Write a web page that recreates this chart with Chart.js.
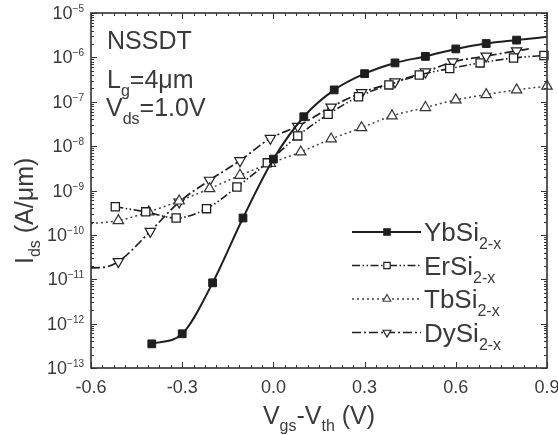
<!DOCTYPE html>
<html>
<head>
<meta charset="utf-8">
<script src="https://cdn.jsdelivr.net/npm/chart.js@4.4.0/dist/chart.umd.min.js"></script>
<style>
  html, body { margin: 0; padding: 0; background: #fff; }
  #wrap { width: 558px; height: 435px; position: relative; }
</style>
</head>
<body>
<div id="wrap"><canvas id="chart"></canvas></div>
<script>
// Vgs-Vth (V) and Ids (A/um)
const ybVgs = [-0.4, -0.3, -0.2, -0.1, 0.0, 0.1, 0.2, 0.3, 0.4, 0.5, 0.6, 0.7, 0.8, 0.9];
const ybIds = [3.5e-13, 5.9e-13, 8.3e-12, 2.4e-10, 5.1e-9, 4.6e-8, 1.85e-7, 4.3e-7, 7.5e-7, 1.05e-6, 1.55e-6, 2.05e-6, 2.45e-6, 2.9e-6];
const ybMarks = [1, 1, 1, 1, 1, 1, 1, 1, 1, 1, 1, 1, 1, 0];

const erVgs = [-0.52, -0.42, -0.32, -0.22, -0.12, -0.02, 0.08, 0.18, 0.28, 0.38, 0.48, 0.58, 0.68, 0.79, 0.89];
const erIds = [4.3e-10, 3.3e-10, 2.4e-10, 3.9e-10, 1.2e-9, 4.2e-9, 1.7e-8, 5.2e-8, 1.3e-7, 2.4e-7, 4.0e-7, 5.6e-7, 7.5e-7, 9.7e-7, 1.1e-6];
const erMarks = [1, 1, 1, 1, 1, 1, 1, 1, 1, 1, 1, 1, 1, 1, 1];

const tbVgs = [-0.6, -0.51, -0.41, -0.31, -0.21, -0.11, -0.01, 0.09, 0.19, 0.29, 0.39, 0.5, 0.6, 0.7, 0.8, 0.9];
const tbIds = [1.8e-10, 2.1e-10, 3.3e-10, 5.8e-10, 1.1e-9, 2.2e-9, 4.1e-9, 7.4e-9, 1.45e-8, 2.6e-8, 4.8e-8, 7.4e-8, 1.1e-7, 1.45e-7, 1.85e-7, 2.25e-7];
const tbMarks = [0, 1, 1, 1, 1, 1, 1, 1, 1, 1, 1, 1, 1, 1, 1, 1];

const dyVgs = [-0.6, -0.56, -0.51, -0.405, -0.31, -0.21, -0.11, -0.01, 0.08, 0.19, 0.29, 0.4, 0.5, 0.59, 0.7, 0.8, 0.84];
const dyIds = [1.8e-11, 1.85e-11, 2.5e-11, 1.2e-10, 5.5e-10, 1.7e-9, 4.7e-9, 1.5e-8, 2.8e-8, 7.6e-8, 1.6e-7, 2.8e-7, 4.7e-7, 7.9e-7, 1.07e-6, 1.4e-6, 1.55e-6];
const dyMarks = [0, 0, 1, 1, 1, 1, 1, 1, 1, 1, 1, 1, 1, 1, 1, 1, 0];

const seriesNames = ['YbSi', 'ErSi', 'TbSi', 'DySi'];
const seriesSub = '2-x';

const xTickValues = [-0.6, -0.3, 0.0, 0.3, 0.6, 0.9];
const xTickLabels = ['-0.6', '-0.3', '0.0', '0.3', '0.6', '0.9'];
const yTickExponents = [-13, -12, -11, -10, -9, -8, -7, -6, -5];

const fontFamily = '"Liberation Sans", Arial, Helvetica, sans-serif';
const ink = '#1e1e1e';
const textInk = '#3a3a3a';

function pts(xs, ys) {
    return xs.map((x, i) => ({x: x, y: ys[i]}));
}

function radii(marks, r) {
    return marks.map(m => m ? r : 0);
}

function drawMarker(ctx, style, rot, x, y, r, fill) {
    ctx.beginPath();
    if (style === 'rect') {
        const s = r * Math.SQRT1_2;
        ctx.rect(x - s, y - s, 2 * s, 2 * s);
    } else {
        let a = rot * Math.PI / 180;
        for (let k = 0; k < 3; k++) {
            const px = x + Math.sin(a) * r, py = y - Math.cos(a) * r;
            if (k === 0) ctx.moveTo(px, py); else ctx.lineTo(px, py);
            a += 2 * Math.PI / 3;
        }
    }
    ctx.closePath();
    ctx.fillStyle = fill;
    ctx.fill();
    ctx.stroke();
}

// text with a sub/superscript run: parts = [[text, size, yShift], ...]
function drawRuns(ctx, parts, x, y) {
    parts.forEach((p) => {
        ctx.font = p[1] + 'px ' + fontFamily;
        ctx.fillText(p[0], x, y + p[2]);
        x += ctx.measureText(p[0]).width;
    });
    return x;
}

function runsWidth(ctx, parts) {
    let w = 0;
    parts.forEach((p) => {
        ctx.font = p[1] + 'px ' + fontFamily;
        w += ctx.measureText(p[0]).width;
    });
    return w;
}

const framePlugin = {
    id: 'frame',
    afterDraw(chart) {
        const ctx = chart.ctx, a = chart.chartArea;
        const xs = chart.scales.x, ys = chart.scales.y;
        ctx.save();

        // box
        ctx.strokeStyle = '#333';
        ctx.lineWidth = 1.6;
        ctx.strokeRect(a.left, a.top, a.right - a.left, a.bottom - a.top);

        // inward ticks, x
        ctx.lineWidth = 1;
        ctx.beginPath();
        for (let i = 0; i <= 40; i++) {
            const px = Math.round(xs.getPixelForValue(-0.6 + i * 0.0375)) + 0.5;
            const len = i % 8 === 0 ? 6 : 3;
            ctx.moveTo(px, a.bottom); ctx.lineTo(px, a.bottom - len);
            ctx.moveTo(px, a.top); ctx.lineTo(px, a.top + len);
        }
        // inward ticks, y (log minors)
        for (let e = -13; e <= -5; e++) {
            for (let m = 1; m <= 9; m++) {
                if (e === -5 && m > 1) break;
                const py = Math.round(ys.getPixelForValue(m * Math.pow(10, e))) + 0.5;
                const len = m === 1 ? 6 : 3;
                ctx.moveTo(a.left, py); ctx.lineTo(a.left + len, py);
                ctx.moveTo(a.right, py); ctx.lineTo(a.right - len, py);
            }
        }
        ctx.stroke();

        ctx.fillStyle = textInk;
        ctx.textBaseline = 'alphabetic';

        // x tick labels
        ctx.textAlign = 'center';
        ctx.font = '18px ' + fontFamily;
        xTickValues.forEach((v, i) => {
            ctx.fillText(xTickLabels[i], xs.getPixelForValue(v), a.bottom + 25);
        });

        // y tick labels 10^n
        ctx.textAlign = 'left';
        yTickExponents.forEach((e) => {
            const py = ys.getPixelForValue(Math.pow(10, e));
            const parts = [['10', 18, 0], [String(e).replace('-', '\u2212'), 10, -7]];
            const w = runsWidth(ctx, parts);
            drawRuns(ctx, parts, 84 - w, py + 6);
        });

        // x title
        const xt = [['V', 25, 0], ['gs', 16, 7], ['-V', 25, 0], ['th', 16, 7], [' (V)', 25, 0]];
        const xw = runsWidth(ctx, xt);
        drawRuns(ctx, xt, (a.left + a.right) / 2 - xw / 2, 424);

        // y title, rotated
        ctx.save();
        ctx.translate(33, 264);
        ctx.rotate(-Math.PI / 2);
        drawRuns(ctx, [['I', 25, 0], ['ds', 16, 7], [' (A/\u03bcm)', 25, 0]], 0, 0);
        ctx.restore();

        // annotation
        drawRuns(ctx, [['NSSDT', 25, 0]], 107, 49);
        drawRuns(ctx, [['L', 25, 0], ['g', 16, 8], ['=4\u03bcm', 25, 0]], 107, 88);
        drawRuns(ctx, [['V', 25, 0], ['ds', 16, 8], ['=1.0V', 25, 0]], 106, 116);

        // legend
        chart.data.datasets.forEach((ds, i) => {
            const y = 232 + i * 33.5;
            ctx.strokeStyle = ds.borderColor;
            ctx.lineWidth = ds.borderWidth;
            ctx.setLineDash(ds.borderDash || []);
            ctx.beginPath();
            ctx.moveTo(352, y); ctx.lineTo(421, y);
            ctx.stroke();
            ctx.setLineDash([]);
            ctx.lineWidth = 1.2;
            drawMarker(ctx, ds.pointStyle, ds.pointRotation || 0, 387, y, 4.5, ds.pointBackgroundColor);
            ctx.fillStyle = textInk;
            drawRuns(ctx, [[seriesNames[i], 26, 0], [seriesSub, 16, 8]], 424, y + 9);
        });

        ctx.restore();
    }
};

new Chart(document.getElementById('chart'), {
    type: 'line',
    data: {
        datasets: [{
            label: seriesNames[0],
            data: pts(ybVgs, ybIds),
            borderColor: ink,
            borderWidth: 2,
            pointStyle: 'rect',
            pointRadius: radii(ybMarks, 5.5),
            pointBackgroundColor: ink,
            pointBorderColor: ink,
            pointBorderWidth: 1,
            cubicInterpolationMode: 'monotone',
            clip: false
        },
            {
                label: seriesNames[1],
                data: pts(erVgs, erIds),
                borderColor: ink,
                borderWidth: 1.6,
                borderDash: [8, 2.5, 1.5, 2.5, 1.5, 2.5],
                pointStyle: 'rect',
                pointRadius: radii(erMarks, 5.8),
                pointBackgroundColor: '#fff',
                pointBorderColor: ink,
                pointBorderWidth: 1.3,
                cubicInterpolationMode: 'monotone',
                clip: false
            },
            {
                label: seriesNames[2],
                data: pts(tbVgs, tbIds),
                borderColor: '#444',
                borderWidth: 1.5,
                borderDash: [2, 3],
                pointStyle: 'triangle',
                pointRadius: radii(tbMarks, 6),
                pointBackgroundColor: '#fff',
                pointBorderColor: '#333',
                pointBorderWidth: 1.2,
                cubicInterpolationMode: 'monotone',
                clip: false
            },
            {
                label: seriesNames[3],
                data: pts(dyVgs, dyIds),
                borderColor: ink,
                borderWidth: 1.7,
                borderDash: [9, 3, 2, 3],
                pointStyle: 'triangle',
                pointRotation: 180,
                pointRadius: radii(dyMarks, 6),
                pointBackgroundColor: '#fff',
                pointBorderColor: ink,
                pointBorderWidth: 1.2,
                cubicInterpolationMode: 'monotone',
                clip: false
            }]
    },
    options: {
        responsive: true,
        maintainAspectRatio: false,
        animation: false,
        layout: {padding: {left: 0, top: 13, right: 11, bottom: 0}},
        plugins: {legend: {display: false}, tooltip: {enabled: false}},
        scales: {
            x: {
                type: 'linear',
                min: -0.6,
                max: 0.9,
                grid: {display: false, drawTicks: false},
                border: {display: false},
                ticks: {display: false},
                afterFit: (s) => { s.height = 67; }
            },
            y: {
                type: 'logarithmic',
                min: 1e-13,
                max: 1e-5,
                grid: {display: false, drawTicks: false},
                border: {display: false},
                ticks: {display: false},
                afterFit: (s) => { s.width = 91; }
            }
        }
    },
    plugins: [framePlugin]
});
</script>
</body>
</html>
